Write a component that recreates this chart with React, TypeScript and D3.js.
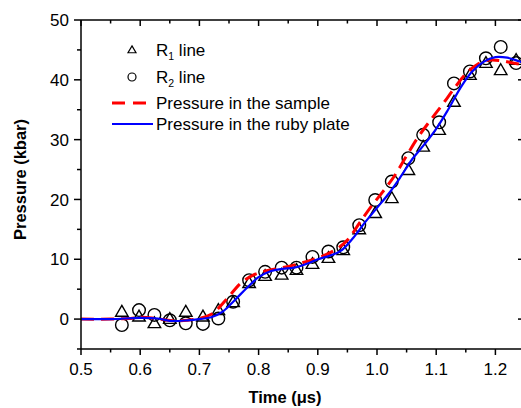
import React from "react";
import * as d3 from "d3";

// R1 line (triangles)
const r1Time = [0.569, 0.598, 0.624, 0.650, 0.677, 0.706, 0.732, 0.757, 0.784, 0.811, 0.839, 0.864, 0.891, 0.918, 0.943, 0.970, 0.997, 1.025, 1.053, 1.078, 1.105, 1.130, 1.157, 1.184, 1.209, 1.235];
const r1Pressure = [1.2, 0.4, -0.7, 0.0, 1.2, 0.4, 1.5, 2.8, 6.0, 7.2, 7.4, 8.2, 9.2, 10.2, 11.5, 15.0, 17.7, 20.2, 24.9, 28.8, 31.6, 36.3, 40.8, 42.8, 41.6, 43.3];

// R2 line (circles)
const r2Time = r1Time;
const r2Pressure = [-1.0, 1.5, 0.7, -0.2, -0.7, -0.8, 0.1, 2.9, 6.5, 7.9, 8.6, 8.6, 10.4, 11.3, 12.0, 15.7, 19.9, 23.0, 26.9, 30.8, 32.9, 39.4, 41.4, 43.6, 45.5, 42.8];

// Pressure in the sample (red dashed)
const sampleTime = [0.50, 0.55, 0.58, 0.60, 0.62, 0.64, 0.66, 0.68, 0.70, 0.72, 0.73, 0.75, 0.77, 0.79, 0.81, 0.83, 0.85, 0.87, 0.89, 0.91, 0.93, 0.95, 0.97, 0.99, 1.01, 1.03, 1.05, 1.07, 1.09, 1.11, 1.13, 1.15, 1.17, 1.19, 1.21, 1.23, 1.25];
const samplePressure = [0, 0, 0.1, 0.3, 0.2, -0.1, -0.3, -0.2, 0.1, 0.8, 1.6, 3.8, 6.0, 7.3, 8.0, 8.4, 8.8, 9.3, 9.9, 10.6, 11.6, 13.2, 16.0, 18.8, 21.3, 24.0, 27.3, 30.5, 33.2, 35.8, 38.5, 41.0, 42.6, 43.3, 43.2, 42.8, 42.5];

// Pressure in the ruby plate (blue solid)
const rubyTime = [0.50, 0.55, 0.60, 0.63, 0.65, 0.68, 0.70, 0.72, 0.74, 0.76, 0.78, 0.80, 0.82, 0.84, 0.86, 0.88, 0.90, 0.92, 0.94, 0.96, 0.98, 1.00, 1.02, 1.04, 1.06, 1.08, 1.10, 1.12, 1.14, 1.16, 1.18, 1.20, 1.22, 1.24, 1.25];
const rubyPressure = [0, 0, 0.2, 0.1, -0.3, -0.2, 0, 0.3, 1.3, 3.2, 5.2, 7.0, 8.0, 8.4, 8.6, 9.2, 10.0, 10.6, 11.5, 13.6, 16.2, 18.6, 21.0, 23.8, 26.8, 29.2, 31.8, 35.0, 38.5, 41.3, 43.0, 43.8, 43.7, 43.1, 42.8];

const xTicks = [0.5, 0.6, 0.7, 0.8, 0.9, 1.0, 1.1, 1.2];
const xMinorTicks = [0.55, 0.65, 0.75, 0.85, 0.95, 1.05, 1.15, 1.25];
const yTicks = [0, 10, 20, 30, 40, 50];
const yMinorTicks = [-5, 5, 15, 25, 35, 45];

const FONT = "'Liberation Sans', Arial, Helvetica, sans-serif";

export default function App() {
  const W = 521, H = 408;
  const x = d3.scaleLinear().domain([0.5, 1.25]).range([81, 525]);
  const y = d3.scaleLinear().domain([-5, 50]).range([349, 20]);

  const line = d3.line<[number, number]>()
    .x(d => x(d[0]))
    .y(d => y(d[1]))
    .curve(d3.curveCatmullRom.alpha(0.5));

  const sample = line(sampleTime.map((t, i) => [t, samplePressure[i]]) as [number, number][]) || "";
  const ruby = line(rubyTime.map((t, i) => [t, rubyPressure[i]]) as [number, number][]) || "";

  const tri = (cx: number, cy: number, s: number) => {
    const h = s * Math.sqrt(3) / 2;
    return `M${cx},${cy - h * 0.6}L${cx + s / 2},${cy + h * 0.4}L${cx - s / 2},${cy + h * 0.4}Z`;
  };

  const x0 = x.range()[0], x1 = x.range()[1];
  const y0 = y.range()[0], y1 = y.range()[1];

  return (
    <svg width={W} height={H} style={{ position: "absolute", left: 0, top: 0, background: "#fff" }} fontFamily={FONT}>
      <defs>
        <clipPath id="plot">
          <rect x={x0} y={y1} width={x1 - x0} height={y0 - y1} />
        </clipPath>
      </defs>
      <rect x={0} y={0} width={W} height={H} fill="#fff" />

      {/* markers */}
      <g clipPath="url(#plot)" fill="none" stroke="#000" strokeWidth={1.4}>
        {r1Time.map((t, i) => (
          <path key={"t" + i} d={tri(x(t), y(r1Pressure[i]), 12.5)} />
        ))}
        {r2Time.map((t, i) => (
          <circle key={"c" + i} cx={x(t)} cy={y(r2Pressure[i])} r={6.3} />
        ))}
      </g>

      {/* lines */}
      <g clipPath="url(#plot)" fill="none">
        <path d={sample} stroke="#ff0000" strokeWidth={3} strokeDasharray="13,7" />
        <path d={ruby} stroke="#0000ff" strokeWidth={2.2} />
      </g>

      {/* frame */}
      <g stroke="#000" strokeWidth={1.5} fill="none">
        <line x1={x0} y1={y0} x2={x1} y2={y0} />
        <line x1={x0} y1={y1} x2={x1} y2={y1} />
        <line x1={x0} y1={y0} x2={x0} y2={y1} />
        <line x1={x1} y1={y0} x2={x1} y2={y1} />
        {xTicks.map(t => (
          <g key={"xt" + t}>
            <line x1={x(t)} x2={x(t)} y1={y0} y2={y0 + 6} />
            <line x1={x(t)} x2={x(t)} y1={y1} y2={y1 + 6} />
          </g>
        ))}
        {xMinorTicks.map(t => (
          <g key={"xm" + t}>
            <line x1={x(t)} x2={x(t)} y1={y0} y2={y0 + 3.5} />
            <line x1={x(t)} x2={x(t)} y1={y1} y2={y1 + 3.5} />
          </g>
        ))}
        {yTicks.map(v => (
          <g key={"yt" + v}>
            <line x1={x0 - 7} x2={x0} y1={y(v)} y2={y(v)} />
            <line x1={x1 - 7} x2={x1} y1={y(v)} y2={y(v)} />
          </g>
        ))}
        {yMinorTicks.map(v => (
          <g key={"ym" + v}>
            <line x1={x0 - 4} x2={x0} y1={y(v)} y2={y(v)} />
            <line x1={x1 - 4} x2={x1} y1={y(v)} y2={y(v)} />
          </g>
        ))}
      </g>

      {/* tick labels */}
      <g fontSize={17} fill="#000">
        {xTicks.map(t => (
          <text key={"xl" + t} x={x(t)} y={375} textAnchor="middle">{t.toFixed(1)}</text>
        ))}
        {yTicks.map(v => (
          <text key={"yl" + v} x={69} y={y(v)} dy="0.36em" textAnchor="end">{v}</text>
        ))}
      </g>

      {/* axis titles */}
      <text x={285} y={403} textAnchor="middle" fontSize={16.5} fontWeight="bold">Time (μs)</text>
      <text transform={`translate(26,${(y0 + y1) / 2 - 5}) rotate(-90)`} textAnchor="middle" fontSize={16.5} fontWeight="bold">Pressure (kbar)</text>

      {/* legend */}
      <g fontSize={17} fill="#000">
        <path d={tri(132, 50, 8)} fill="none" stroke="#000" strokeWidth={1.2} />
        <text x={156} y={56}>R<tspan fontSize={10.5} dy={4}>1</tspan><tspan dy={-4}> line</tspan></text>
        <circle cx={132} cy={77} r={4} fill="none" stroke="#000" strokeWidth={1.2} />
        <text x={156} y={83}>R<tspan fontSize={10.5} dy={4}>2</tspan><tspan dy={-4}> line</tspan></text>
        <line x1={112} x2={149} y1={103} y2={103} stroke="#ff0000" strokeWidth={3} strokeDasharray="13,8" />
        <text x={156} y={109}>Pressure in the sample</text>
        <line x1={112} x2={153} y1={124} y2={124} stroke="#0000ff" strokeWidth={2} />
        <text x={156} y={130}>Pressure in the ruby plate</text>
      </g>
    </svg>
  );
}
